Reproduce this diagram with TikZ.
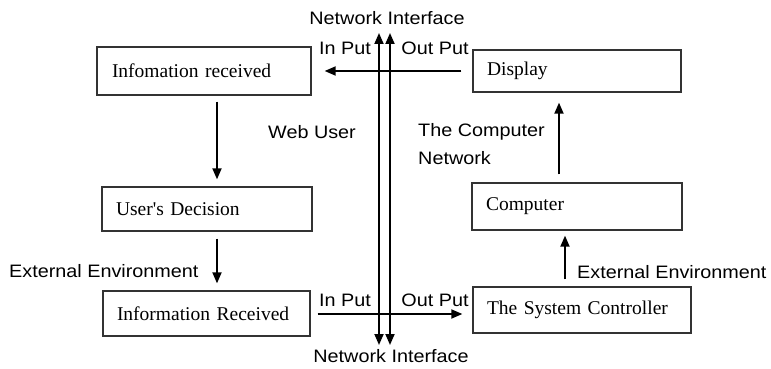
\documentclass[tikz,border=0pt]{standalone}
\usepackage{fontspec}
\setmainfont{Liberation Serif}
\newfontfamily\labelfont[FakeStretch=1.1]{Liberation Sans}
\usetikzlibrary{arrows.meta}
\usetikzlibrary{positioning}

\tikzset{
  box/.style={draw=black!80, line width=1.3pt, minimum width=#1, text width=#1-28pt,
    inner xsep=14pt, align=left, font=\fontsize{19.5}{23}\selectfont},
  arr/.style={-{Triangle[length=11pt,width=9pt]}, line width=1.8pt},
  lbl/.style={inner sep=0pt, font=\labelfont\fontsize{18}{21}\selectfont}
}

\begin{document}
\begin{tikzpicture}[x=1pt,y=-1pt]
\useasboundingbox (0,0) rectangle (771,369);

\node[box=212pt, minimum height=48pt, inner xsep=15pt] (inforec) at (204,71) {Infomation received};
\node[box=208pt, minimum height=42pt] (display) at (577,71) {Display};
\node[box=210pt, minimum height=44pt] (decision) at (207,209) {User\textquotesingle s Decision};
\node[box=207pt, minimum height=45pt] (inforecB) at (206.5,313.5) {Information Received};
\node[box=210pt, minimum height=47pt] (computer) at (577,206.5) {Computer};
\node[box=218pt, minimum height=46pt] (controller) at (582,310) {The System Controller};

\coordinate (ntopA) at (379,33);
\coordinate (nbotA) at (379,345);
\coordinate (ntopB) at (390,33);
\coordinate (nbotB) at (390,345);

\draw[arr] (display.west) [shorten <=11pt, shorten >=13pt] -- (inforec.east);
\draw[arr, shorten <=6pt, shorten >=7pt] ([xshift=13pt]inforec.south) -- ([xshift=10pt]decision.north);
\draw[arr, shorten <=7pt, shorten >=7pt] ([xshift=10pt]decision.south) -- ([xshift=10.5pt]inforecB.north);
\draw[arr, shorten <=7pt, shorten >=10pt] ([yshift=-0.5pt]inforecB.east) -- ([yshift=-0.5pt]inforecB.east -| controller.west);
\draw[arr, shorten <=8pt, shorten >=10pt] ([xshift=-18pt]computer.north) -- ([xshift=-18pt]display.south);
\draw[arr, shorten <=7pt, shorten >=5pt] ([xshift=-17pt]controller.north) -- ([xshift=-12pt]computer.south);

\draw[arr, {Triangle[length=11pt,width=9pt]}-{Triangle[length=11pt,width=9pt]}] (ntopA) -- (nbotA);
\draw[arr, {Triangle[length=11pt,width=9pt]}-{Triangle[length=11pt,width=9pt]}] (ntopB) -- (nbotB);

\node[lbl] (nitop) at (387,18) {Network Interface};
\node[lbl] (nibot) at (391,356) {Network Interface};
\node[lbl] (intop) at (345,48) {In Put};
\node[lbl] (outtop) at (435,48) {Out Put};
\node[lbl] (inbot) at (345,300) {In Put};
\node[lbl] (outbot) at (435,300) {Out Put};
\node[lbl] (webuser) at (312,132) {Web User};
\node[lbl, anchor=west] (compnet) at (418,132) {The Computer};
\node[lbl, anchor=west] (compnetB) at (418,158) {Network};
\node[lbl, anchor=west] (extL) at (9,271) {External Environment};
\node[lbl, anchor=west] (extR) at (577,272) {External Environment};

\end{tikzpicture}
\end{document}
